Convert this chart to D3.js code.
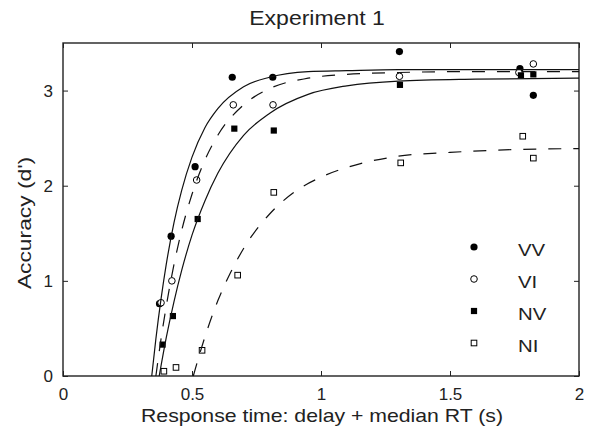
<!DOCTYPE html>
<html>
<head>
<meta charset="utf-8">
<script src="https://cdn.jsdelivr.net/npm/d3@7"></script>
<style>
  body { margin: 0; background: #fff; }
  svg { display: block; font-family: "Liberation Sans", Arial, sans-serif; }
</style>
</head>
<body>
<div id="chart"></div>
<script>
// observed points (x = response time in s, y = d')
const vvX = [0.374, 0.419, 0.512, 0.656, 0.813, 1.304, 1.771, 1.823]
const vvY = [0.76, 1.47, 2.20, 3.14, 3.14, 3.41, 3.23, 2.95]
const viX = [0.380, 0.422, 0.518, 0.660, 0.814, 1.304, 1.767, 1.823]
const viY = [0.77, 1.00, 2.06, 2.85, 2.85, 3.15, 3.19, 3.28]
const nvX = [0.386, 0.426, 0.522, 0.664, 0.817, 1.306, 1.775, 1.823]
const nvY = [0.33, 0.63, 1.65, 2.60, 2.58, 3.06, 3.16, 3.17]
const niX = [0.391, 0.438, 0.539, 0.677, 0.817, 1.309, 1.782, 1.823]
const niY = [0.05, 0.09, 0.27, 1.06, 1.93, 2.24, 2.52, 2.29]

// fitted curves
const fitVVx = [0.344, 0.36, 0.38, 0.40, 0.43, 0.46, 0.50, 0.55, 0.60, 0.70, 0.80, 0.95, 1.10, 1.30, 1.60, 2.00]
const fitVVy = [0, 0.39, 0.81, 1.17, 1.61, 1.95, 2.30, 2.61, 2.81, 3.04, 3.14, 3.20, 3.21, 3.22, 3.22, 3.22]
const fitVIx = [0.36, 0.38, 0.40, 0.43, 0.46, 0.50, 0.55, 0.60, 0.70, 0.80, 0.95, 1.10, 1.30, 1.60, 2.00]
const fitVIy = [0, 0.39, 0.73, 1.17, 1.53, 1.91, 2.27, 2.53, 2.85, 3.02, 3.13, 3.17, 3.19, 3.20, 3.20]
const fitNVx = [0.373, 0.40, 0.43, 0.46, 0.50, 0.55, 0.60, 0.70, 0.80, 0.95, 1.10, 1.30, 1.60, 2.00]
const fitNVy = [0, 0.40, 0.78, 1.11, 1.48, 1.84, 2.13, 2.53, 2.76, 2.96, 3.05, 3.10, 3.12, 3.13]
const fitNIx = [0.505, 0.55, 0.60, 0.65, 0.70, 0.80, 0.90, 1.00, 1.15, 1.30, 1.50, 1.75, 2.00]
const fitNIy = [0, 0.41, 0.79, 1.09, 1.34, 1.70, 1.94, 2.09, 2.23, 2.31, 2.35, 2.38, 2.39]

const xTicks = [0, 0.5, 1, 1.5, 2]
const yTicks = [0, 1, 2, 3]
const legendNames = ["VV", "VI", "NV", "NI"]

const width = 601, height = 447
const plot = {left: 63, right: 579, top: 43, bottom: 376}

const svg = d3.select("#chart").append("svg")
    .attr("width", width)
    .attr("height", height)

const x = d3.scaleLinear().domain([0, 2]).range([plot.left, plot.right])
const y = d3.scaleLinear().domain([0, 3.5]).range([plot.bottom, plot.top])

const zip = (xs, ys) => xs.map((v, i) => ({x: v, y: ys[i]}))

const series = [
    {name: "VV", pts: zip(vvX, vvY), fit: zip(fitVVx, fitVVy), shape: "circle", filled: true, dash: null},
    {name: "VI", pts: zip(viX, viY), fit: zip(fitVIx, fitVIy), shape: "circle", filled: false, dash: "13,12"},
    {name: "NV", pts: zip(nvX, nvY), fit: zip(fitNVx, fitNVy), shape: "square", filled: true, dash: null},
    {name: "NI", pts: zip(niX, niY), fit: zip(fitNIx, fitNIy), shape: "square", filled: false, dash: "13,12"},
]

// axes, ticks pointing inwards on all four sides
const axisStyle = g => {
    g.select(".domain").remove()
    g.selectAll(".tick line").attr("stroke", "#222").attr("stroke-width", 1)
    g.selectAll(".tick text").attr("fill", "#222").attr("font-size", 17)
}
svg.append("g")
    .attr("transform", `translate(0,${plot.bottom})`)
    .call(d3.axisBottom(x).tickValues(xTicks).tickFormat(d3.format("")).tickSizeInner(-5).tickSizeOuter(0).tickPadding(12))
    .call(axisStyle)
svg.append("g")
    .attr("transform", `translate(0,${plot.top})`)
    .call(d3.axisTop(x).tickValues(xTicks).tickFormat("").tickSizeInner(-5).tickSizeOuter(0))
    .call(axisStyle)
svg.append("g")
    .attr("transform", `translate(${plot.left},0)`)
    .call(d3.axisLeft(y).tickValues(yTicks).tickFormat(d3.format("")).tickSizeInner(-5).tickSizeOuter(0).tickPadding(10))
    .call(axisStyle)
svg.append("g")
    .attr("transform", `translate(${plot.right},0)`)
    .call(d3.axisRight(y).tickValues(yTicks).tickFormat("").tickSizeInner(-5).tickSizeOuter(0))
    .call(axisStyle)

svg.append("rect")
    .attr("x", plot.left).attr("y", plot.top)
    .attr("width", plot.right - plot.left).attr("height", plot.bottom - plot.top)
    .attr("fill", "none").attr("stroke", "#222").attr("stroke-width", 1.4)

function drawMarker(g, s, cx, cy) {
    if (s.shape === "circle") {
        g.append("circle")
            .attr("cx", cx).attr("cy", cy)
            .attr("r", s.filled ? 3.6 : 3.3)
            .attr("fill", s.filled ? "#000" : "#fff")
            .attr("stroke", "#000").attr("stroke-width", s.filled ? 0 : 1)
    } else {
        const half = s.filled ? 3.1 : 2.8
        g.append("rect")
            .attr("x", cx - half).attr("y", cy - half)
            .attr("width", half * 2).attr("height", half * 2)
            .attr("fill", s.filled ? "#000" : "#fff")
            .attr("stroke", "#000").attr("stroke-width", s.filled ? 0 : 1)
    }
}

const marks = svg.append("g")
series.forEach(s => s.pts.forEach(p => drawMarker(marks, s, x(p.x), y(p.y))))

const line = d3.line()
    .x(d => x(d.x))
    .y(d => y(d.y))
    .curve(d3.curveMonotoneX)

series.forEach(s => {
    svg.append("path")
        .datum(s.fit)
        .attr("d", line)
        .attr("fill", "none")
        .attr("stroke", "#111")
        .attr("stroke-width", 1.2)
        .attr("stroke-dasharray", s.dash)
})

// stretched text like the original export
function label(txt, px, py, size, sx, rotate) {
    const g = svg.append("g")
        .attr("transform", `translate(${px},${py})` + (rotate ? " rotate(-90)" : ""))
    g.append("text")
        .attr("transform", `scale(${sx},1)`)
        .attr("text-anchor", "middle")
        .attr("font-size", size)
        .attr("fill", "#222")
        .text(txt)
}

label("Experiment 1", 317, 25, 20, 1.15, false)
label("Response time: delay + median RT (s)", 322, 422, 18, 1.18, false)
label("Accuracy (d')", 31, 223, 19, 1.2, true)

// legend
const legend = svg.append("g")
legendNames.forEach((name, i) => {
    const s = series.find(d => d.name === name)
    const ly = 247 + i * 32
    drawMarker(legend, s, 474, ly)
    legend.append("text")
        .attr("transform", `translate(518,${ly + 8.5}) scale(1.2,1)`)
        .attr("font-size", 17)
        .attr("fill", "#222")
        .text(name)
})
</script>
</body>
</html>
